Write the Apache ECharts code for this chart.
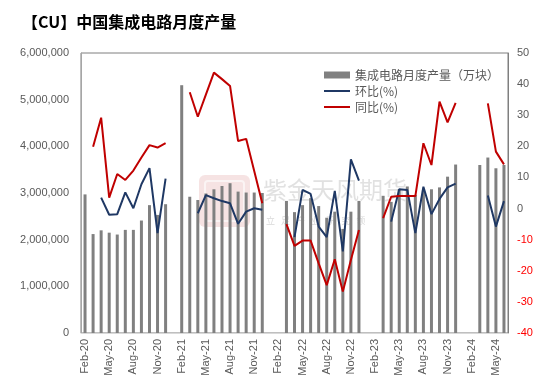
<!DOCTYPE html>
<html>
<head>
<meta charset="utf-8">
<script src="https://cdn.jsdelivr.net/npm/echarts@6/dist/echarts.min.js"></script>
<style>
html,body{margin:0;padding:0;background:#fff;}
#c{width:545px;height:391px;}
</style>
</head>
<body>
<div id="c"></div>
<script>
var categories = [
 'Feb-20','Mar-20','Apr-20','May-20','Jun-20','Jul-20','Aug-20','Sep-20','Oct-20','Nov-20','Dec-20',
 'Jan-21','Feb-21','Mar-21','Apr-21','May-21','Jun-21','Jul-21','Aug-21','Sep-21','Oct-21','Nov-21','Dec-21',
 'Jan-22','Feb-22','Mar-22','Apr-22','May-22','Jun-22','Jul-22','Aug-22','Sep-22','Oct-22','Nov-22','Dec-22',
 'Jan-23','Feb-23','Mar-23','Apr-23','May-23','Jun-23','Jul-23','Aug-23','Sep-23','Oct-23','Nov-23','Dec-23',
 'Jan-24','Feb-24','Mar-24','Apr-24','May-24','Jun-24'
];
var output = [
 2970000,2120000,2200000,2150000,2110000,2210000,2210000,2410000,2740000,2530000,2760000,
 null,5310000,2920000,2850000,2990000,3080000,3150000,3210000,3030000,3010000,3010000,3000000,
 null,null,2830000,2590000,2740000,2890000,2720000,2470000,2600000,2230000,2600000,2830000,
 null,null,2940000,2810000,3080000,3140000,2960000,3060000,3080000,3120000,3350000,3610000,
 null,null,3600000,3760000,3530000,3600000
];
var mom = [
 null,null,3.5,-2.0,-1.8,5.2,0.1,7.8,13.0,-7.9,9.6,
 null,null,null,-1.5,4.3,3.3,2.4,1.7,-4.9,-1.0,0.1,-0.4,
 null,null,null,-9.2,6.0,4.7,-5.8,-9.2,5.7,-13.8,15.8,9.0,
 null,null,null,-4.2,6.2,6.0,-7.9,7.0,-1.8,3.1,6.8,8.0,
 null,null,null,4.2,-5.8,2.4
];
var yoy = [
 null,19.9,29.2,3.5,11.1,9.2,12.2,16.4,20.4,19.6,21.0,
 null,null,37.4,29.5,36.6,43.7,41.6,39.4,21.7,22.4,12.1,1.7,
 null,null,-5.0,-12.0,-10.3,-10.3,-17.6,-24.6,-16.3,-26.7,-16.5,-6.9,
 null,null,-3.1,3.8,4.0,4.0,4.0,21.0,14.0,34.4,27.7,34.0,
 null,null,null,33.8,18.3,14.2
];
var leftTicks = {min:0, max:6000000, interval:1000000};
var rightTicks = {min:-40, max:50, interval:10};
var names = ['集成电路月度产量（万块）','环比(%)','同比(%)'];

var chart = echarts.init(document.getElementById('c'), null, {renderer:'canvas'});
var axisFont = 'Liberation Sans, Arial, sans-serif';
var cjk = '"Noto Sans CJK SC", sans-serif';
chart.setOption({
  animation:false,
  backgroundColor:'#fff',
  title:{
    text:'【CU】中国集成电路月度产量',
    left:17, top:9,
    textStyle:{fontSize:16, fontWeight:'bold', color:'#000', fontFamily:cjk}
  },
  graphic:[
    {type:'rect', z:-1, shape:{x:199,y:175,width:51,height:52,r:6}, style:{fill:'rgba(200,80,80,0.16)'}},
    {type:'rect', z:-1, shape:{x:205,y:181,width:39,height:40,r:3}, style:{fill:'none', stroke:'rgba(255,255,255,0.6)', lineWidth:2}},
    {type:'text', z:-1, x:263, y:178, style:{text:'紫金天风期货', font:'24px "Noto Sans CJK SC"', fill:'rgba(170,170,170,0.35)'}},
    {type:'text', z:-1, x:266, y:216, style:{text:'立   足   产   业   研   究   领', font:'9px "Noto Sans CJK SC"', fill:'rgba(170,170,170,0.45)'}}
  ],
  legend:[
    {data:[names[0]], left:319, top:64, orient:'vertical', itemWidth:26, itemHeight:7, icon:'rect',
     textStyle:{fontSize:12, color:'#595959', fontFamily:cjk}},
    {data:[names[1]], left:319, top:80, orient:'vertical', itemWidth:26, itemHeight:2, icon:'rect',
     textStyle:{fontSize:12, color:'#595959', fontFamily:cjk}},
    {data:[names[2]], left:319, top:96, orient:'vertical', itemWidth:26, itemHeight:2, icon:'rect',
     textStyle:{fontSize:12, color:'#595959', fontFamily:cjk}}
  ],
  grid:{left:81, right:37, top:53, bottom:58, show:true, borderColor:'#7f7f7f', borderWidth:1, backgroundColor:'transparent'},
  xAxis:{
    type:'category', data:categories, boundaryGap:true,
    axisLine:{show:true, lineStyle:{color:'#d9d9d9'}},
    axisTick:{show:false},
    axisLabel:{interval:2, rotate:90, fontSize:11, color:'#595959', margin:6, fontFamily:axisFont}
  },
  yAxis:[
    {type:'value', min:leftTicks.min, max:leftTicks.max, interval:leftTicks.interval,
     axisLine:{show:true, lineStyle:{color:'#a6a6a6'}}, axisTick:{show:false}, splitLine:{show:false},
     axisLabel:{fontSize:11, color:'#595959', margin:12, fontFamily:axisFont,
       formatter:function(v){return v.toString().replace(/\B(?=(\d{3})+(?!\d))/g, ',');}}},
    {type:'value', min:rightTicks.min, max:rightTicks.max, interval:rightTicks.interval, position:'right',
     axisLine:{show:true, lineStyle:{color:'#7f7f7f'}}, axisTick:{show:false}, splitLine:{show:false},
     axisLabel:{fontSize:11, margin:9, fontFamily:axisFont,
       color:function(v){return Number(v) < 0 ? '#ff0000' : '#595959';}}}
  ],
  series:[
    {name:names[0], type:'bar', data:output, yAxisIndex:0, barWidth:3,
     itemStyle:{color:'#808080'}},
    {name:names[1], type:'line', data:mom, yAxisIndex:1, showSymbol:false, symbol:'none',
     lineStyle:{color:'#1f3864', width:2}, itemStyle:{color:'#1f3864'}},
    {name:names[2], type:'line', data:yoy, yAxisIndex:1, showSymbol:false, symbol:'none',
     lineStyle:{color:'#c00000', width:2}, itemStyle:{color:'#c00000'}}
  ]
});
</script>
</body>
</html>
